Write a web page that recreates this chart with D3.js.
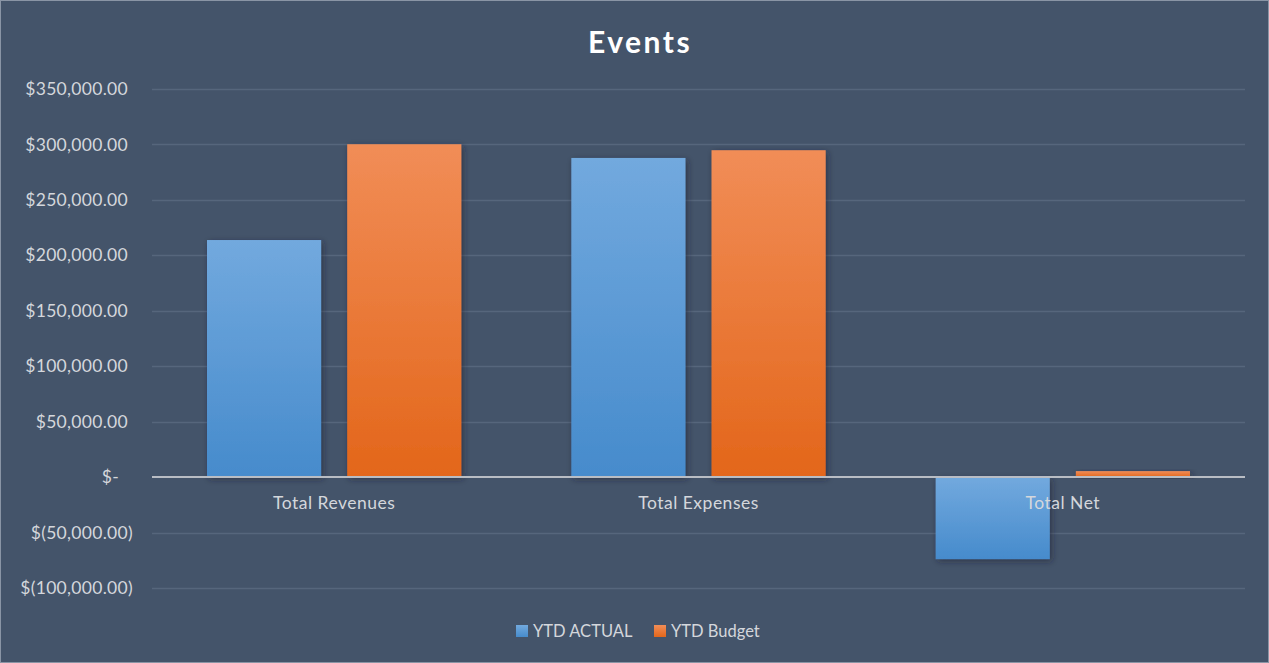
<!DOCTYPE html>
<html>
<head>
<meta charset="utf-8">
<script src="https://cdn.jsdelivr.net/npm/d3@7"></script>
<style>
  html, body { margin: 0; padding: 0; background: #44546a; }
  svg { display: block; }
  text { font-family: "Lato", "Open Sans", sans-serif; }
</style>
</head>
<body>
<div id="vis"></div>
<script>
const categories = ["Total Revenues", "Total Expenses", "Total Net"];
const seriesNames = ["YTD ACTUAL", "YTD Budget"];
const ytdActual = [213800, 287800, -74000];
const ytdBudget = [300200, 294800, 5400];
const yTicks = [-100000, -50000, 0, 50000, 100000, 150000, 200000, 250000, 300000, 350000];

const width = 1269;
const height = 663;
const margin = { top: 89, right: 24, bottom: 75, left: 152 };

const svg = d3.select("#vis")
  .append("svg")
  .attr("width", width)
  .attr("height", height);

svg.append("rect")
  .attr("x", 0.5).attr("y", 0.5)
  .attr("width", width - 1).attr("height", height - 1)
  .attr("fill", "#44546a")
  .attr("stroke", "#8a95a5")
  .attr("stroke-width", 1);

const defs = svg.append("defs");

// degradados de las barras
const gradBlue = defs.append("linearGradient").attr("id", "gBlue")
  .attr("x1", 0).attr("y1", 0).attr("x2", 0).attr("y2", 1);
gradBlue.append("stop").attr("offset", "0%").attr("stop-color", "#72a9de");
gradBlue.append("stop").attr("offset", "100%").attr("stop-color", "#468bcc");

const gradOrange = defs.append("linearGradient").attr("id", "gOrange")
  .attr("x1", 0).attr("y1", 0).attr("x2", 0).attr("y2", 1);
gradOrange.append("stop").attr("offset", "0%").attr("stop-color", "#f18d57");
gradOrange.append("stop").attr("offset", "100%").attr("stop-color", "#e3661a");

const shadow = defs.append("filter").attr("id", "shadow")
  .attr("x", "-20%").attr("y", "-20%").attr("width", "140%").attr("height", "140%");
shadow.append("feDropShadow")
  .attr("dx", 2).attr("dy", 2).attr("stdDeviation", 3)
  .attr("flood-color", "#1c2430").attr("flood-opacity", 0.55);

const y = d3.scaleLinear()
  .domain([-100000, 350000])
  .range([588, margin.top]);

const x0 = d3.scaleBand()
  .domain(categories)
  .range([margin.left, width - margin.right])
  .paddingInner(0)
  .paddingOuter(0);

const x1 = d3.scaleBand()
  .domain(seriesNames)
  .range([55, x0.bandwidth() - 55])
  .paddingInner(0.186);

// título
svg.append("text")
  .attr("x", 640)
  .attr("y", 53)
  .attr("text-anchor", "middle")
  .attr("fill", "#ffffff")
  .style("font-size", "30px")
  .style("font-weight", "bold")
  .style("letter-spacing", "2.5px")
  .text("Events");

// líneas de la cuadrícula
svg.append("g")
  .selectAll("line")
  .data(yTicks.filter(d => d !== 0))
  .enter()
  .append("line")
  .attr("x1", margin.left)
  .attr("x2", width - margin.right)
  .attr("y1", d => Math.round(y(d)) + 0.5)
  .attr("y2", d => Math.round(y(d)) + 0.5)
  .attr("stroke", "#56667c")
  .attr("stroke-width", 1.5);

// etiquetas del eje y, formato contable
const money = d3.format(",.2f");
function fmt(d) {
  if (d === 0) return "$-";
  if (d < 0) return "$(" + money(-d) + ")";
  return "$" + money(d);
}
svg.append("g")
  .selectAll("text")
  .data(yTicks)
  .enter()
  .append("text")
  .attr("x", d => d < 0 ? 133 : (d === 0 ? 119 : 128))
  .attr("y", d => y(d))
  .attr("dy", "0.35em")
  .attr("text-anchor", "end")
  .attr("fill", "#d4d7dc")
  .style("font-size", "17.5px")
  .style("letter-spacing", "0.3px")
  .text(fmt);

const data = categories.map((c, i) => ({
  cat: c,
  values: [
    { key: seriesNames[0], value: ytdActual[i] },
    { key: seriesNames[1], value: ytdBudget[i] }
  ]
}));

const fills = { "YTD ACTUAL": "url(#gBlue)", "YTD Budget": "url(#gOrange)" };

const groups = svg.append("g")
  .selectAll("g")
  .data(data)
  .enter()
  .append("g")
  .attr("transform", d => `translate(${x0(d.cat)},0)`);

groups.selectAll("rect")
  .data(d => d.values)
  .enter()
  .append("rect")
  .attr("x", d => x1(d.key))
  .attr("y", d => y(Math.max(0, d.value)))
  .attr("width", x1.bandwidth())
  .attr("height", d => Math.abs(y(d.value) - y(0)))
  .attr("fill", d => fills[d.key])
  .attr("filter", "url(#shadow)");

// línea del cero
svg.append("line")
  .attr("x1", margin.left)
  .attr("x2", width - margin.right)
  .attr("y1", y(0))
  .attr("y2", y(0))
  .attr("stroke", "#b9bdc4")
  .attr("stroke-width", 2);

// etiquetas de categoría
svg.append("g")
  .selectAll("text")
  .data(categories)
  .enter()
  .append("text")
  .attr("x", d => x0(d) + x0.bandwidth() / 2)
  .attr("y", 503)
  .attr("dy", "0.35em")
  .attr("text-anchor", "middle")
  .attr("fill", "#d4d7dc")
  .style("font-size", "17.5px")
  .style("letter-spacing", "0.5px")
  .text(d => d);

// leyenda
const legendX = [516, 654];
const legend = svg.append("g")
  .selectAll("g")
  .data(seriesNames)
  .enter()
  .append("g")
  .attr("transform", (d, i) => `translate(${legendX[i]},625)`);

legend.append("rect")
  .attr("width", 12)
  .attr("height", 12)
  .attr("fill", (d, i) => i === 0 ? "url(#gBlue)" : "url(#gOrange)");

legend.append("text")
  .attr("x", 17)
  .attr("y", 6)
  .attr("dy", "0.35em")
  .attr("fill", "#d4d7dc")
  .style("font-size", "16.5px")
  .text(d => d);
</script>
</body>
</html>
